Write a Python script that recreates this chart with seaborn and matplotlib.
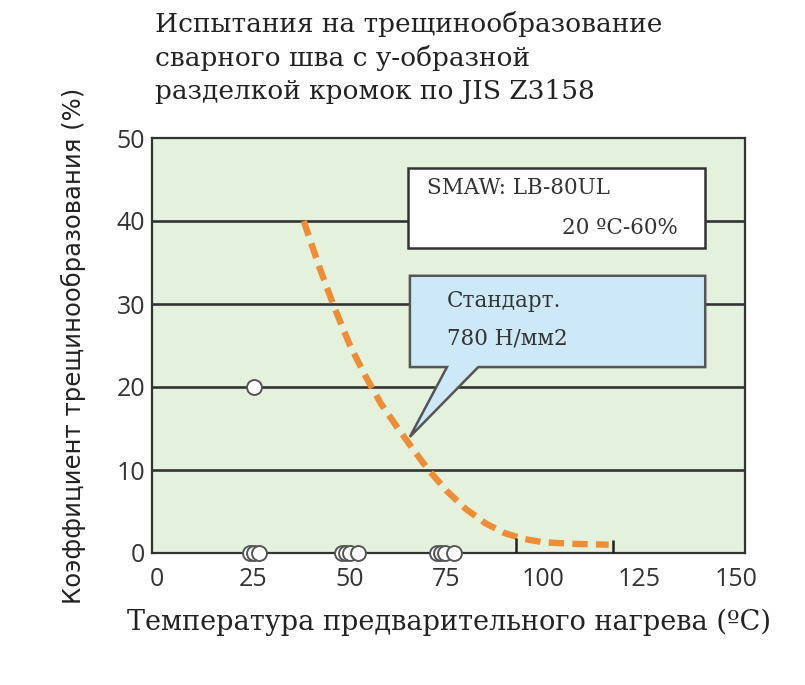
import matplotlib
matplotlib.use("Agg")
import matplotlib.pyplot as plt
import seaborn as sns
import pandas as pd
from matplotlib.patches import Polygon

# data
curve_x = [38, 42, 46, 50, 54, 58, 62, 66, 70, 75, 80, 85, 90, 95, 100, 108, 117]
curve_y = [40, 34.5, 29.5, 25, 21.3, 18, 15.3, 12.7, 10.2, 7.5, 5.3, 3.6, 2.4, 1.7, 1.3, 1.1, 1.0]

point_x = [25, 24, 25, 26.5, 48, 49, 50, 52, 72.5, 73.5, 74.5, 77]
point_y = [20, 0, 0, 0, 0, 0, 0, 0, 0, 0, 0, 0]

range_x = [93, 118]
range_top = [1.8, 1.6]

x_ticks = [0, 25, 50, 75, 100, 125, 150]
y_ticks = [0, 10, 20, 30, 40, 50]

title = "Испытания на трещинообразование\nсварного шва с у-образной\nразделкой кромок по JIS Z3158"
x_label = "Температура предварительного нагрева (ºC)"
y_label = "Коэффициент трещинообразования (%)"

sns.set_style("white")
plt.rcParams["font.family"] = ["DejaVu Sans"]

fig = plt.figure(figsize=(8.05, 6.85), dpi=100)
ax = fig.add_axes([152 / 805, 1 - 553 / 685, (745 - 152) / 805, (553 - 138) / 685])
ax.set_facecolor("#e4f1dd")

for yv in y_ticks[1:-1]:
    ax.axhline(yv, color="#333333", lw=1.9, zorder=1)

df_curve = pd.DataFrame({"x": curve_x, "y": curve_y})
sns.lineplot(data=df_curve, x="x", y="y", ax=ax, color="#ef8d35", lw=4.6,
             linestyle=(0, (2.4, 1.3)), zorder=3, sort=False)

ax.vlines(range_x, 0, range_top, color="#222222", lw=1.8, zorder=4)

df_pts = pd.DataFrame({"x": point_x, "y": point_y})
sns.scatterplot(data=df_pts, x="x", y="y", ax=ax, s=115, color="white",
                edgecolor="#555555", linewidth=1.4, zorder=5, clip_on=False)

ax.set_xlim(-1.3, 152.3)
ax.set_ylim(0, 50)
ax.set_xticks(x_ticks)
ax.set_yticks(y_ticks)
ax.tick_params(axis="both", labelsize=18, labelcolor="#333333", length=0)
ax.tick_params(axis="x", pad=10)
ax.tick_params(axis="y", pad=5)
for lab in ax.get_xticklabels() + ax.get_yticklabels():
    lab.set_family("Open Sans")
for sp in ax.spines.values():
    sp.set_color("#333333")
    sp.set_linewidth(1.6)

ax.set_xlabel(x_label, family="DejaVu Serif", fontsize=19.5, color="#222222", labelpad=12)
ax.set_ylabel(y_label, family="DejaVu Sans", fontsize=17.5, color="#222222", labelpad=22)

# legend-like white box
smaw = Polygon([(65, 46.4), (142, 46.4), (142, 36.7), (65, 36.7)], closed=True,
               fc="white", ec="#333333", lw=1.8, zorder=6)
ax.add_patch(smaw)
ax.text(70, 44.0, "SMAW: LB-80UL", family="DejaVu Serif", fontsize=15.5,
        color="#333333", va="center", zorder=7)
ax.text(135, 39.2, "20 ºC-60%", family="DejaVu Serif", fontsize=15.5,
        color="#333333", va="center", ha="right", zorder=7)

# callout
callout = Polygon([(65.5, 33.4), (142, 33.4), (142, 22.4), (83.2, 22.4),
                   (65.5, 14.0), (75.1, 22.4), (65.5, 22.4)], closed=True,
                  fc="#cde9f7", ec="#555555", lw=1.8, zorder=6)
ax.add_patch(callout)
ax.text(75, 30.4, "Стандарт.", family="DejaVu Serif", fontsize=15.5,
        color="#333333", va="center", zorder=7)
ax.text(75, 25.9, "780 Н/мм2", family="DejaVu Serif", fontsize=15.5,
        color="#333333", va="center", zorder=7)

fig.text(155 / 805, 1 - 11 / 685, title, family="DejaVu Serif", fontsize=19,
         color="#222222", va="top", ha="left", linespacing=1.4)

fig.savefig("out.png", dpi=100)
